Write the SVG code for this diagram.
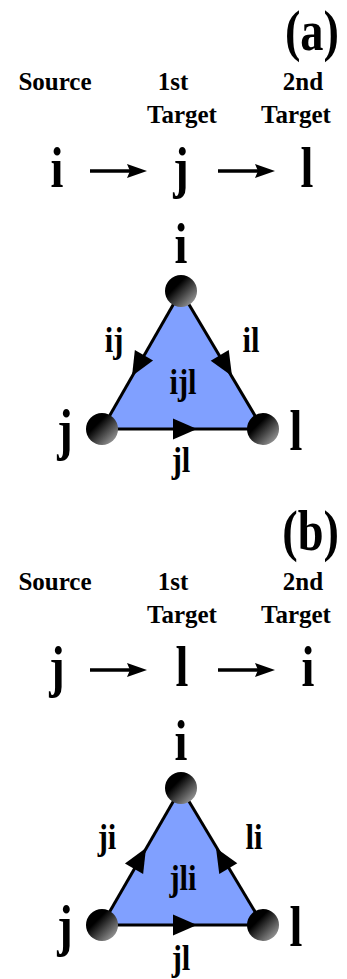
<svg xmlns="http://www.w3.org/2000/svg" width="347" height="979" viewBox="0 0 347 979">
<style>
text{font-family:"Liberation Serif","Times New Roman",serif;font-weight:bold;fill:#000;text-anchor:middle}
.hdr{font-size:25px}
.big{font-size:58px}
.sm{font-size:36px}
.edge{stroke:#000;stroke-width:3;fill:none}
.tri{fill:#80a0ff;stroke:none}
.row{stroke:#000;stroke-width:3.5;fill:none}
</style>
<defs>
<linearGradient id="ball" x1="0" y1="0" x2="1" y2="1">
<stop offset="0.35" stop-color="#000"/>
<stop offset="1" stop-color="#b8b8b8"/>
</linearGradient>
<path id="ah" d="M0,0 L-24,-10.5 L-24,10.5 Z" fill="#000"/>
<path id="rh" d="M0,0 L-20,-7 L-17,0 L-20,7 Z" fill="#000"/>
</defs>

<!-- Panel (a) -->
<g id="panel-a">
<text class="big" style="text-anchor:end" transform="translate(339,50) scale(0.8,1)">(a)</text>
<g id="a-headers">
<text class="hdr" x="55" y="90">Source</text>
<text class="hdr" x="173" y="90">1st</text>
<text class="hdr" x="182" y="123">Target</text>
<text class="hdr" x="303" y="90">2nd</text>
<text class="hdr" x="296" y="123">Target</text>
</g>
<g id="a-seq-i"><text class="big" transform="translate(57,187) scale(0.8,1)">i</text></g>
<g id="a-seq-j"><text class="big" transform="translate(181,187) scale(0.8,1)">j</text></g>
<g id="a-seq-l"><text class="big" transform="translate(307,187) scale(0.8,1)">l</text></g>
<g id="a-seq-connectors">
<line class="row" x1="90" y1="171" x2="132" y2="171"/>
<use href="#rh" x="147" y="171"/>
<line class="row" x1="218" y1="171" x2="260" y2="171"/>
<use href="#rh" x="275" y="171"/>
</g>
<polygon class="tri" points="181,291 102,429 263,429"/>
<g id="a-connectors">
<line class="edge" x1="181" y1="291" x2="102" y2="429"/>
<line class="edge" x1="181" y1="291" x2="263" y2="429"/>
<line class="edge" x1="102" y1="429" x2="263" y2="429"/>
<use href="#ah" transform="translate(132,376) rotate(119.9)"/>
<use href="#ah" transform="translate(232,376) rotate(59.2)"/>
<use href="#ah" transform="translate(197,429)"/>
<text class="sm" transform="translate(114,352) scale(0.85,1)">ij</text>
<text class="sm" transform="translate(251,352) scale(0.85,1)">il</text>
<text class="sm" transform="translate(181,472) scale(0.85,1)">jl</text>
</g>
<text class="sm" transform="translate(183,394) scale(0.85,1)">ijl</text>
<g id="a-node-i"><circle cx="181" cy="291" r="16" fill="url(#ball)"/><text class="big" transform="translate(181,263) scale(0.8,1)">i</text></g>
<g id="a-node-j"><circle cx="102" cy="429" r="16" fill="url(#ball)"/><text class="big" transform="translate(65,449) scale(0.8,1)">j</text></g>
<g id="a-node-l"><circle cx="263" cy="429" r="16" fill="url(#ball)"/><text class="big" transform="translate(296,450) scale(0.8,1)">l</text></g>
</g>

<!-- Panel (b) -->
<g id="panel-b">
<text class="big" style="text-anchor:end" transform="translate(339,550) scale(0.8,1)">(b)</text>
<g id="b-headers">
<text class="hdr" x="55" y="590">Source</text>
<text class="hdr" x="173" y="590">1st</text>
<text class="hdr" x="182" y="623">Target</text>
<text class="hdr" x="303" y="590">2nd</text>
<text class="hdr" x="296" y="623">Target</text>
</g>
<g id="b-seq-j"><text class="big" transform="translate(57,686) scale(0.8,1)">j</text></g>
<g id="b-seq-l"><text class="big" transform="translate(182,686) scale(0.8,1)">l</text></g>
<g id="b-seq-i"><text class="big" transform="translate(308,686) scale(0.8,1)">i</text></g>
<g id="b-seq-connectors">
<line class="row" x1="90" y1="670" x2="132" y2="670"/>
<use href="#rh" x="147" y="670"/>
<line class="row" x1="218" y1="670" x2="260" y2="670"/>
<use href="#rh" x="275" y="670"/>
</g>
<polygon class="tri" points="181,788 102,925 263,925"/>
<g id="b-connectors">
<line class="edge" x1="181" y1="788" x2="102" y2="925"/>
<line class="edge" x1="181" y1="788" x2="263" y2="925"/>
<line class="edge" x1="102" y1="925" x2="263" y2="925"/>
<use href="#ah" transform="translate(146,848) rotate(-60.1)"/>
<use href="#ah" transform="translate(216,848) rotate(-120.8)"/>
<use href="#ah" transform="translate(197,925)"/>
<text class="sm" transform="translate(107,849) scale(0.85,1)">ji</text>
<text class="sm" transform="translate(254,849) scale(0.85,1)">li</text>
<text class="sm" transform="translate(181,970) scale(0.85,1)">jl</text>
</g>
<text class="sm" transform="translate(183,890) scale(0.85,1)">jli</text>
<g id="b-node-i"><circle cx="181" cy="788" r="16" fill="url(#ball)"/><text class="big" transform="translate(181,760) scale(0.8,1)">i</text></g>
<g id="b-node-j"><circle cx="102" cy="925" r="16" fill="url(#ball)"/><text class="big" transform="translate(65,945) scale(0.8,1)">j</text></g>
<g id="b-node-l"><circle cx="263" cy="925" r="16" fill="url(#ball)"/><text class="big" transform="translate(296,946) scale(0.8,1)">l</text></g>
</g>
</svg>
